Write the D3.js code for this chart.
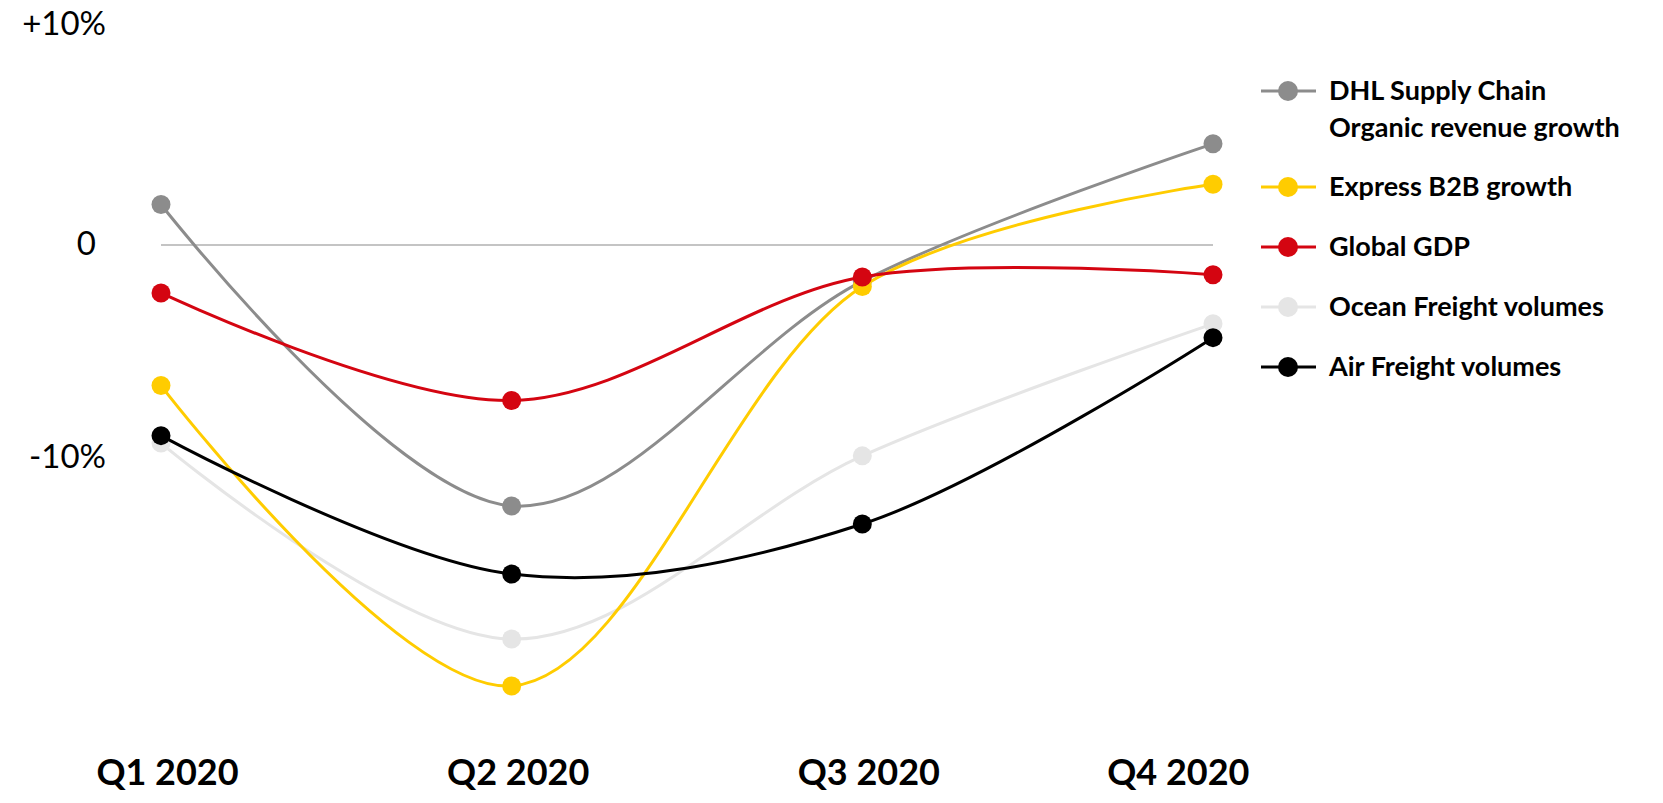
<!DOCTYPE html>
<html>
<head>
<meta charset="utf-8">
<script src="https://cdn.jsdelivr.net/npm/d3@7"></script>
<style>
  body { margin: 0; background: #fff; }
  svg { display: block; font-family: Lato, "Noto Sans", sans-serif; }
</style>
</head>
<body>
<svg id="chart"></svg>
<script>
const quarters = ["Q1 2020", "Q2 2020", "Q3 2020", "Q4 2020"];
const supplyChain = [1.9, -12.25, -1.7, 4.75];
const expressB2B = [-6.6, -20.7, -1.95, 2.85];
const globalGdp = [-2.25, -7.3, -1.5, -1.4];
const oceanFreight = [-9.3, -18.5, -9.9, -3.7];
const airFreight = [-8.95, -15.45, -13.1, -4.35];
const yTicks = [10, 0, -10];

const width = 1663;
const height = 803;

const series = [
    { name: ["DHL Supply Chain", "Organic revenue growth"], values: supplyChain, color: "#8c8c8c" },
    { name: ["Express B2B growth"], values: expressB2B, color: "#ffcc00" },
    { name: ["Global GDP"], values: globalGdp, color: "#d40511" },
    { name: ["Ocean Freight volumes"], values: oceanFreight, color: "#e5e5e5" },
    { name: ["Air Freight volumes"], values: airFreight, color: "#000000" }
];
// drawing order so the dark lines sit on top
const drawOrder = [3, 0, 1, 2, 4];

const svg = d3.select("#chart")
    .attr("width", width)
    .attr("height", height);

const x = d3.scalePoint()
    .domain(quarters)
    .range([161, 1213]);
const y = d3.scaleLinear()
    .domain([-10, 0])
    .range([458, 245]);

// zero line
svg.append("line")
    .attr("x1", x(quarters[0]))
    .attr("x2", x(quarters[quarters.length - 1]))
    .attr("y1", y(0))
    .attr("y2", y(0))
    .attr("stroke", "#b1b1b1")
    .attr("stroke-width", 1.5);

// y axis labels
const yAxis = d3.axisLeft(y)
    .tickValues(yTicks)
    .tickSize(0);

svg.append("g")
    .attr("class", "y-axis")
    .attr("transform", "translate(106,0)")
    .call(yAxis)
    .call(g => g.select(".domain").remove())
    .call(g => g.selectAll("text")
        .attr("x", d => d === 0 ? -10 : 0)
        .attr("dy", d => d > 0 ? "0.09em" : "0.3em")
        .style("font-family", "Lato, sans-serif")
        .style("font-size", "33px")
        .style("fill", "#000")
        .text(d => d > 0 ? `+${d}%` : d < 0 ? `-${-d}%` : "0"));

// x axis labels, the last one is pulled in so it ends under the plot
const xAxis = d3.axisBottom(x).tickSize(0);
const labelRight = 1249;
svg.append("g")
    .attr("class", "x-axis")
    .attr("transform", "translate(0,772)")
    .call(xAxis)
    .call(g => g.select(".domain").remove())
    .call(g => g.selectAll("text")
        .attr("y", 0)
        .attr("dy", "0.35em")
        .style("font-family", "Lato, sans-serif")
        .style("font-weight", 700)
        .style("font-size", "36px")
        .style("fill", "#000")
        .each(function(d) {
            const w = this.getComputedTextLength();
            const cx = Math.min(x(d) + 6, labelRight - w / 2);
            d3.select(this).attr("x", cx - x(d));
        }));

const line = d3.line()
    .x((d, i) => x(quarters[i]))
    .y(d => y(d))
    .curve(d3.curveCatmullRom.alpha(0.5));

const lines = svg.append("g").attr("class", "lines");
drawOrder.forEach(idx => {
    const s = series[idx];
    const g = lines.append("g");
    g.append("path")
        .datum(s.values)
        .attr("fill", "none")
        .attr("stroke", s.color)
        .attr("stroke-width", 3)
        .attr("d", line);
    g.selectAll("circle")
        .data(s.values)
        .enter()
        .append("circle")
        .attr("cx", (d, i) => x(quarters[i]))
        .attr("cy", d => y(d))
        .attr("r", 9.5)
        .attr("fill", s.color);
});

// legend
const legend = svg.append("g").attr("class", "legend");
let ly = 91;
series.forEach(s => {
    const item = legend.append("g").attr("transform", `translate(0,${ly})`);
    item.append("line")
        .attr("x1", 1261)
        .attr("x2", 1316)
        .attr("stroke", s.color)
        .attr("stroke-width", 3);
    item.append("circle")
        .attr("cx", 1288)
        .attr("r", 10)
        .attr("fill", s.color);
    s.name.forEach((t, j) => {
        item.append("text")
            .attr("x", 1329)
            .attr("y", j * 37)
            .attr("dy", "0.35em")
            .style("font-weight", 700)
            .style("font-size", "27px")
            .style("fill", "#000")
            .text(t);
    });
    ly += 60 + (s.name.length - 1) * 36;
});
</script>
</body>
</html>
